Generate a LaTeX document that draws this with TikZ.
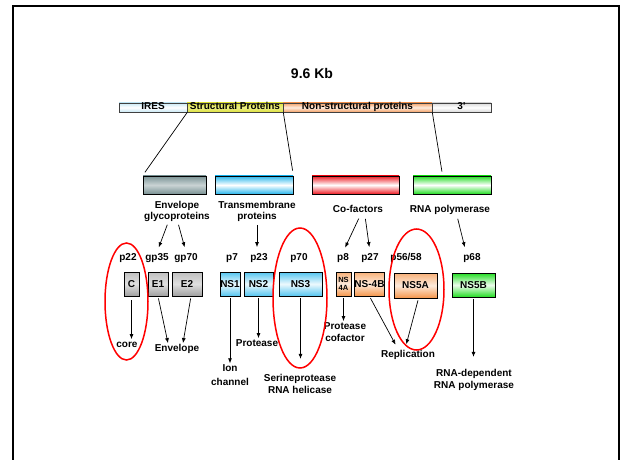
\documentclass[tikz,border=0pt]{standalone}
\usepackage{fontspec}
\setmainfont{Liberation Sans}
\usetikzlibrary{arrows.meta}

\definecolor{iresblue}{RGB}{200,232,245}
\definecolor{strucyel}{RGB}{222,226,60}
\definecolor{nsorange}{RGB}{244,160,100}
\definecolor{slate}{RGB}{122,146,148}
\definecolor{cyanbox}{RGB}{40,182,236}
\definecolor{redbox}{RGB}{238,28,36}
\definecolor{greenbox}{RGB}{34,221,34}
\definecolor{orangebox}{RGB}{245,150,75}

\tikzset{
  seg/.style={draw=black!75, line width=0.6pt, minimum height=9pt, inner sep=0pt,
    text height=7pt, text depth=2pt, font=\fontsize{10}{10}\selectfont\bfseries},
  bigbox/.style={draw=black, line width=0.8pt, minimum height=18pt, inner sep=0pt},
  prot/.style={draw=black, line width=0.8pt, minimum height=24pt, inner sep=0pt,
    font=\fontsize{10}{11}\selectfont\bfseries},
  lbl/.style={align=center, inner sep=1pt, font=\fontsize{10}{12.5}\selectfont\bfseries},
  plbl/.style={inner sep=1pt, text height=7.3pt, text depth=2.1pt,
    font=\fontsize{10}{12.5}\selectfont\bfseries},
  arr/.style={-{Latex[length=5pt,width=4pt]}, line width=0.7pt},
  ring/.style={red, line width=1.5pt},
  shgrey/.style={top color=gray!50, bottom color=gray!75, middle color=gray!25},
  shblue/.style={top color=cyanbox!80, bottom color=cyanbox!80, middle color=cyanbox!8},
  shorange/.style={top color=orangebox!75, bottom color=orangebox, middle color=orangebox!20},
  shgreen/.style={top color=greenbox, bottom color=greenbox, middle color=greenbox!8},
}

\begin{document}
\begin{tikzpicture}[x=1pt,y=-1pt]
    \useasboundingbox (0,0) rectangle (625,460);
    %frame
    \draw[line width=2pt] (12.5,460) -- (12.5,6.5) -- (619,6.5) -- (619,460);

    %title
    \node[font=\fontsize{14}{16}\selectfont\bfseries] (title) at (312,73) {9.6 Kb};

    %genome
    \node[seg, minimum width=68pt, top color=iresblue, bottom color=iresblue, middle color=white] (ires) at (153,107.5) {IRES};
    \node[seg, minimum width=96pt, top color=strucyel, bottom color=strucyel, middle color=strucyel!60] (struc) at (235,107.5) {Structural Proteins};
    \node[seg, minimum width=149pt, top color=nsorange, bottom color=nsorange, middle color=nsorange!20] (nonst) at (357.5,107.5) {Non-structural proteins};
    \node[seg, minimum width=59pt, top color=black!15, bottom color=black!15, middle color=white] (three) at (461.5,107.5) {3'};

    %groups
    \node[bigbox, minimum width=63pt, top color=slate, bottom color=slate, middle color=slate!40] (envbox) at (174.5,185) {};
    \node[bigbox, minimum width=78pt, top color=cyanbox, bottom color=cyanbox, middle color=white] (tmbox) at (254,185) {};
    \node[bigbox, minimum width=87pt, top color=redbox, bottom color=redbox, middle color=white] (cofbox) at (355.5,185) {};
    \node[bigbox, minimum width=78pt, top color=greenbox, bottom color=greenbox, middle color=white] (polbox) at (452,185) {};

    \draw[line width=0.7pt, shorten >=4pt] (ires.south east) -- (envbox.north west);
    \draw[line width=0.7pt, shorten >=5pt] (struc.south east) -- (tmbox.north east);
    \draw[line width=0.7pt, shorten >=4pt] (nonst.south east) -- ([xshift=30pt]polbox.north west);

    \node[lbl, font=\fontsize{10}{11}\selectfont\bfseries] (envlbl) at (177,211.5) {Envelope\\glycoproteins};
    \node[lbl, font=\fontsize{10}{11}\selectfont\bfseries] (tmlbl) at (257,211.5) {Transmembrane\\proteins};
    \node[plbl] (coflbl) at (358,210) {Co-factors};
    \node[plbl] (pollbl) at (450,210) {RNA polymerase};

    %proteins
    \foreach \nm/\x in {p22/128,gp35/157,gp70/186,p7/232,p23/259,p70/299,p8/343,p27/370,p68/472}
        \node[plbl] (\nm) at (\x,258) {\nm};
    \node[plbl] (p56) at (406,258) {p56/58};

    \draw[arr, shorten <=2pt, shorten >=5pt] ([xshift=-9pt]envlbl.south) -- (gp35.north);
    \draw[arr, shorten <=2pt, shorten >=5pt] ([xshift=1pt]envlbl.south) -- (gp70.north);
    \draw[arr, shorten <=2pt, shorten >=5pt] (tmlbl.south) -- (tmlbl.south |- p23.north);
    \draw[arr, shorten <=3pt, shorten >=5pt] ([xshift=2pt]coflbl.south) -- (p8.north);
    \draw[arr, shorten <=3pt, shorten >=5pt] ([xshift=7pt]coflbl.south) -- (p27.north);
    \draw[arr, shorten <=3pt, shorten >=5pt] ([xshift=7pt]pollbl.south) -- ([xshift=-6pt]p68.north);

    \node[prot, shgrey, minimum width=15pt] (C) at (131.5,284) {C};
    \node[prot, shgrey, minimum width=20pt] (E1) at (158,284) {E1};
    \node[prot, shgrey, minimum width=30pt] (E2) at (187,284) {E2};
    \node[prot, shblue, minimum width=20pt] (NS1) at (230,284) {NS1};
    \node[prot, shblue, minimum width=29pt] (NS2) at (258.5,284) {NS2};
    \node[prot, shblue, minimum width=43pt] (NS3) at (300.5,284) {NS3};
    \node[prot, shorange, minimum width=15pt, align=center, font=\fontsize{7.5}{8}\selectfont\bfseries] (NS4A) at (343.5,284) {NS\\4A};
    \node[prot, shorange, minimum width=29pt] (NS4B) at (369.5,284) {NS-4B};
    \node[prot, shorange, minimum width=43pt, minimum height=25pt] (NS5A) at (415.5,285.5) {NS5A};
    \node[prot, shgreen, minimum width=43pt] (NS5B) at (473.5,285) {NS5B};

    %functions
    \node[plbl] (core) at (127,345) {core};
    \node[plbl] (envl) at (177,349) {Envelope};
    \node[lbl, font=\fontsize{10}{14}\selectfont\bfseries] (ion) at (230,375) {Ion\\channel};
    \node[plbl] (prot) at (257,344) {Protease};
    \node[lbl] (ser) at (300,384) {Serineprotease\\RNA helicase};
    \node[lbl] (pcof) at (345,332) {Protease\\cofactor};
    \node[plbl] (repl) at (408,355) {Replication};
    \node[lbl] (rdrp) at (474,380) {RNA-dependent\\RNA polymerase};

    \draw[arr, shorten <=4pt] (C.south) -- (C.south |- core.north);
    \draw[arr, shorten <=2pt] (E1.south) -- ([xshift=-9pt]envl.north);
    \draw[arr, shorten <=2pt] ([xshift=4pt]E2.south) -- ([xshift=6pt]envl.north);
    \draw[arr, shorten <=2pt] (NS1.south) -- (ion.north);
    \draw[arr, shorten <=2pt] (NS2.south) -- (NS2.south |- prot.north);
    \draw[arr, shorten <=2pt, shorten >=14pt] (NS3.south) -- (NS3.south |- ser.north);
    \draw[arr, shorten <=2pt] (NS4A.south) -- (NS4A.south |- pcof.north);
    \draw[arr, shorten <=2pt, shorten >=5pt] (NS4B.south) -- ([xshift=-10pt]repl.north);
    \draw[arr, shorten <=2pt, shorten >=5pt] ([xshift=3pt]NS5A.south) -- ([xshift=-3pt]repl.north);
    \draw[arr, shorten <=2pt, shorten >=11pt] (NS5B.south) -- (NS5B.south |- rdrp.north);

    %highlights
    \draw[ring] (126.5,301.5) ellipse [x radius=21.5pt, y radius=58.5pt];
    \draw[ring] (300,298) ellipse [x radius=27pt, y radius=70pt];
    \draw[ring] (416.5,289.5) ellipse [x radius=27.5pt, y radius=60.5pt];
\end{tikzpicture}
\end{document}
